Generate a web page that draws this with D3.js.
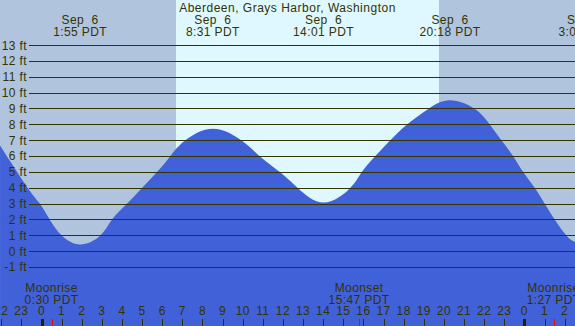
<!DOCTYPE html>
<html>
<head>
<meta charset="utf-8">
<script src="https://cdn.jsdelivr.net/npm/d3@7"></script>
<style>
  body { margin: 0; background: #fff; }
  svg { display: block; }
  text { font-family: "Liberation Sans", Arial, sans-serif; font-size: 12px; letter-spacing: 0.4px; fill: #333300; }
</style>
</head>
<body>
<div id="chart"></div>
<script>
"use strict"

const WIDTH = 575;
const HEIGHT = 326;

const TITLE = "Aberdeen, Grays Harbor, Washington";

// tide height (hours after midnight Sep 6, feet)
const tideHours = [-2.06, -0.67, -0.07, 0.42, 1.02, 1.92, 2.91, 3.49, 4.23, 4.98, 5.73, 6.39, 7.13,
	8.52, 9.95, 10.86, 11.86, 12.75, 14.02, 15.33, 15.91, 16.57, 17.32, 18.15, 19.22,
	20.30, 21.54, 22.29, 22.87, 23.45, 23.95, 24.53, 25.02, 25.52, 26.10, 26.52, 27.05];
const tideFeet = [6.7, 4, 3, 2, 1, 0.45, 1, 2, 3, 4, 5, 6, 7,
	7.75, 7, 6, 5, 4, 3.1, 4, 5, 6, 7, 8, 9,
	9.55, 9, 8, 7, 6, 5, 4, 3, 2, 1, 0.6, 0.35];

// high / low tide labels
const extremeHours = [1.917, 8.517, 14.017, 20.3, 27.033];
const extremeDates = ["Sep  6", "Sep  6", "Sep  6", "Sep  6", "Sep  7"];
const extremeTimes = ["1:55 PDT", "8:31 PDT", "14:01 PDT", "20:18 PDT", "3:02 PDT"];

// moon events
const moonHours = [0.5, 15.783, 25.45];
const moonNames = ["Moonrise", "Moonset", "Moonrise"];
const moonTimes = ["0:30 PDT", "15:47 PDT", "1:27 PDT"];

// daylight
const sunrise = 6.68;
const sunset = 19.76;

const feetTicks = d3.range(-1, 14);
const hourTicks = d3.range(-2, 28);

var x = d3.scaleLinear().domain([0, 24]).range([41.5, 524.4]);
var y = d3.scaleLinear().domain([0, 13]).range([251.6, 45.5]);

var svg = d3.select("#chart")
	.append("svg")
	.attr("width", WIDTH)
	.attr("height", HEIGHT);

// night / day background
svg.append("rect")
	.attr("x", 0).attr("y", 0)
	.attr("width", WIDTH).attr("height", HEIGHT)
	.style("fill", "#b0c4de");

svg.append("rect")
	.attr("x", Math.round(x(sunrise)))
	.attr("y", 0)
	.attr("width", Math.round(x(sunset)) - Math.round(x(sunrise)))
	.attr("height", HEIGHT)
	.style("fill", "#dff8ff");

// water
var area = d3.area()
	.x(function(d) { return x(d[0]); })
	.y0(HEIGHT)
	.y1(function(d) { return y(d[1]); })
	.curve(d3.curveNatural);

svg.append("path")
	.datum(d3.zip(tideHours, tideFeet))
	.attr("d", area)
	.style("fill", "#4161d8");

// grid lines and height labels
svg.selectAll(".grid")
	.data(feetTicks)
	.enter()
		.append("line")
		.attr("class", "grid")
		.attr("x1", 29)
		.attr("x2", WIDTH)
		.attr("y1", function(d) { return Math.round(y(d) - 0.5) + 0.5; })
		.attr("y2", function(d) { return Math.round(y(d) - 0.5) + 0.5; })
		.style("stroke", "#333300")
		.style("stroke-width", 1);

svg.selectAll(".ftLabel")
	.data(feetTicks)
	.enter()
		.append("text")
		.attr("class", "ftLabel")
		.attr("x", 27)
		.attr("y", function(d) { return y(d) + 4; })
		.attr("text-anchor", "end")
		.text(function(d) { return d + " ft"; });

// title and tide labels
svg.append("text")
	.attr("x", WIDTH / 2)
	.attr("y", 12)
	.attr("text-anchor", "middle")
	.style("letter-spacing", "0.5px")
	.text(TITLE);

var ext = svg.selectAll(".ext")
	.data(extremeHours)
	.enter()
		.append("g")
		.attr("class", "ext")
		.attr("transform", function(d) { return "translate(" + x(d) + ",0)"; });

ext.append("text")
	.attr("y", 24)
	.attr("text-anchor", "middle")
	.style("white-space", "pre")
	.text(function(d, i) { return extremeDates[i]; });

ext.append("text")
	.attr("y", 36)
	.attr("text-anchor", "middle")
	.text(function(d, i) { return extremeTimes[i]; });

// moon labels
var moon = svg.selectAll(".moon")
	.data(moonHours)
	.enter()
		.append("g")
		.attr("class", "moon")
		.attr("transform", function(d) { return "translate(" + x(d) + ",0)"; });

moon.append("text")
	.attr("y", 292)
	.attr("text-anchor", "middle")
	.text(function(d, i) { return moonNames[i]; });

moon.append("text")
	.attr("y", 304)
	.attr("text-anchor", "middle")
	.text(function(d, i) { return moonTimes[i]; });

// hour axis
svg.selectAll(".hour")
	.data(hourTicks)
	.enter()
		.append("text")
		.attr("class", "hour")
		.attr("x", function(d) { return x(d); })
		.attr("y", 315)
		.attr("text-anchor", "middle")
		.text(function(d) { return ((d % 24) + 24) % 24; });

svg.selectAll(".tick")
	.data(hourTicks)
	.enter()
		.append("line")
		.attr("class", "tick")
		.attr("x1", function(d) { return Math.round(x(d)) + 0.5; })
		.attr("x2", function(d) { return Math.round(x(d)) + 0.5; })
		.attr("y1", 319)
		.attr("y2", HEIGHT)
		.style("stroke", function(d) { return d % 24 == 0 ? "#222200" : "#333300"; })
		.style("stroke-width", function(d) { return d % 24 == 0 ? 3 : 1; });

svg.selectAll(".moonTick")
	.data(moonHours)
	.enter()
		.append("line")
		.attr("class", "moonTick")
		.attr("x1", function(d) { return Math.round(x(d)) + 0.5; })
		.attr("x2", function(d) { return Math.round(x(d)) + 0.5; })
		.attr("y1", 319)
		.attr("y2", HEIGHT)
		.style("stroke", "red");
</script>
</body>
</html>
